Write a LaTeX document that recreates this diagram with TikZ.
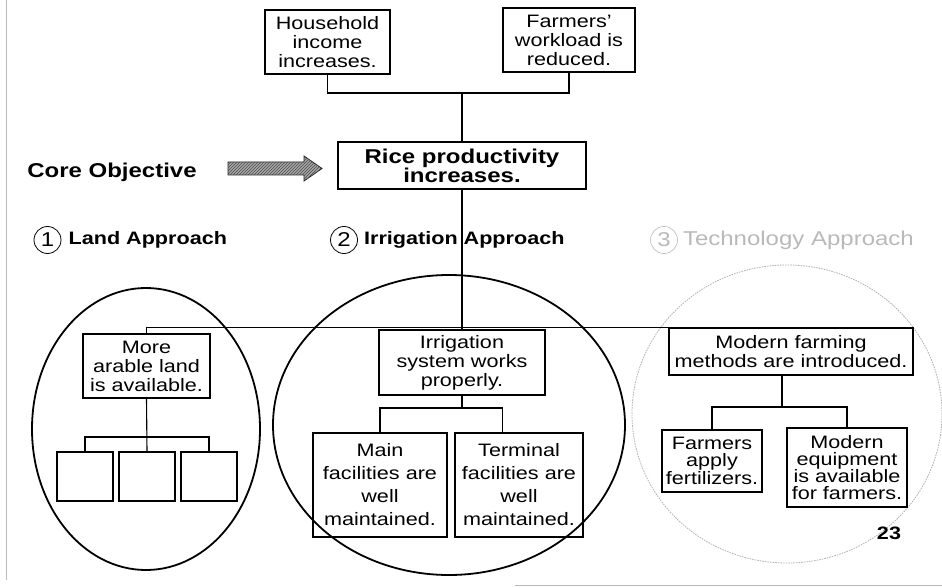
\documentclass[tikz,border=0pt]{standalone}
\usepackage{fontspec}
\setmainfont{Liberation Sans}[FakeStretch=1.2]
\usetikzlibrary{calc,positioning,patterns}

% font sizes used in the chart
\newcommand\boxfont{\fontsize{18}{19}\selectfont}
\newcommand\loosefont{\fontsize{18}{23}\selectfont}
\newcommand\tightfont{\fontsize{18}{16.5}\selectfont}
\newcommand\headfont{\bfseries\fontsize{20}{19}\selectfont}
\newcommand\labfont{\bfseries\fontsize{18}{20}\selectfont}

\tikzset{
  box/.style={draw, line width=1.1pt, inner sep=0pt, align=center, font=\boxfont},
  conn/.style={line width=1.1pt},
  ring/.style={line width=1.8pt},
  faintring/.style={line width=0.8pt, gray!60, dash pattern=on 1.6pt off 1pt},
  numc/.style={circle, draw, line width=0.8pt, minimum size=27pt, inner sep=0pt,
               font=\fontsize{20}{20}\selectfont},
  lab/.style={anchor=west, inner sep=0pt, font=\labfont},
  blockarrow/.style={draw=black!85, line width=0.8pt, fill=gray!70,
                     postaction={pattern=north east lines, pattern color=black!70}},
  frame/.style={gray!55, line width=0.8pt}
}

\begin{document}
\begin{tikzpicture}[x=1pt, y=-1pt]
\useasboundingbox (0,0) rectangle (942,588);

% page frame remnants
\draw[frame] (6,0) -- (6,580);
\draw[frame] (515,585) -- (942,585);

% approach groupings
\draw[ring] (146,429) ellipse [x radius=114pt, y radius=141pt];
\draw[ring] (449,425) ellipse [x radius=176pt, y radius=150pt];
\draw[faintring] (787,414) ellipse [x radius=155pt, y radius=149pt];

% upper goals
\node[box, minimum width=125pt, minimum height=64pt] (hh) at (327.5,42) {Household\\income\\increases.};
\node[box, minimum width=132pt, minimum height=64pt] (fw) at (569,40) {Farmers'\\workload is\\reduced.};
\node[box, font=\headfont, minimum width=248pt, minimum height=47pt] (rice) at (462,165.5) {Rice productivity\\increases.};

% core objective and its block arrow
\node[font=\headfont, inner sep=0pt] (core) at (112,172) {Core Objective};
\draw[blockarrow] (228,162) -- (304,162) -- (304,156) -- (322,168.5)
                  -- (304,181) -- (304,175) -- (228,175) -- cycle;

% approach headings
\node[numc] (n1) at (47.5,240) {1};
\node[lab, right=7pt of n1] (l1) {Land Approach};
\node[numc] (n2) at (344,240) {2};
\node[lab, right=6pt of n2] (l2) {Irrigation Approach};
\node[numc, draw=gray!55, text=gray!55, line width=0.6pt] (n3) at (664,240) {3};
\node[lab, right=5pt of n3, font=\fontsize{20}{20}\selectfont, text=gray!55] (l3) {Technology Approach};

% second level
\node[box, minimum width=127pt, minimum height=64pt] (land) at (146.5,366) {More\\arable land\\is available.};
\node[box, minimum width=166pt, minimum height=65pt] (irr) at (462,362.5) {Irrigation\\system works\\properly.};
\node[box, minimum width=244pt, minimum height=47pt] (tech) at (791,351.5) {Modern farming\\methods are introduced.};

% land children
\node[box, minimum width=56pt, minimum height=49pt] (sq1) at (85,476.5) {};
\node[box, minimum width=56pt, minimum height=49pt] (sq2) at (147,476.5) {};
\node[box, minimum width=56pt, minimum height=49pt] (sq3) at (209,476.5) {};

% irrigation children
\node[box, font=\loosefont, minimum width=134pt, minimum height=104pt] (main) at (380,485) {Main\\facilities are\\well\\maintained.};
\node[box, font=\loosefont, minimum width=128pt, minimum height=104pt] (term) at (519,485) {Terminal\\facilities are\\well\\maintained.};

% technology children
\node[box, font=\tightfont, minimum width=100pt, minimum height=62pt] (fert) at (712,461) {Farmers\\apply\\fertilizers.};
\node[box, font=\tightfont, minimum width=120pt, minimum height=79pt] (equip) at (847,467.5) {Modern\\equipment\\is available\\for farmers.};

% page number
\node[font=\bfseries\fontsize{18}{18}\selectfont, inner sep=0pt] (pg) at (889,533) {23};

% junction points
\coordinate (j1) at (462,93);
\coordinate (j2) at (462,307);
\coordinate (j3) at (147,437);
\coordinate (j4) at (462,408);
\coordinate (j5) at (782,407);
\coordinate (tk) at ($(term.north west)!0.37!(term.north east)$);

% connectors
\draw[conn] (hh.south) |- (fw.south |- j1) -- (fw.south);
\draw[conn] (j1) -- (rice.north);
\draw[conn] (rice.south) -- (irr.north);
\draw[conn] (land.north) |- (tech.north -| j5) -- (j5 |- tech.north);
\draw[conn] (land.south) -- (sq2.north);
\draw[conn] (sq1.north) |- (sq3.north |- j3) -- (sq3.north);
\draw[conn] (irr.south) -- (j4);
\draw[conn] (main.north) |- (tk |- j4) -- (tk);
\draw[conn] (tech.south -| j5) -- (j5);
\draw[conn] (fert.north) |- (equip.north |- j5) -- (equip.north);
\end{tikzpicture}
\end{document}
